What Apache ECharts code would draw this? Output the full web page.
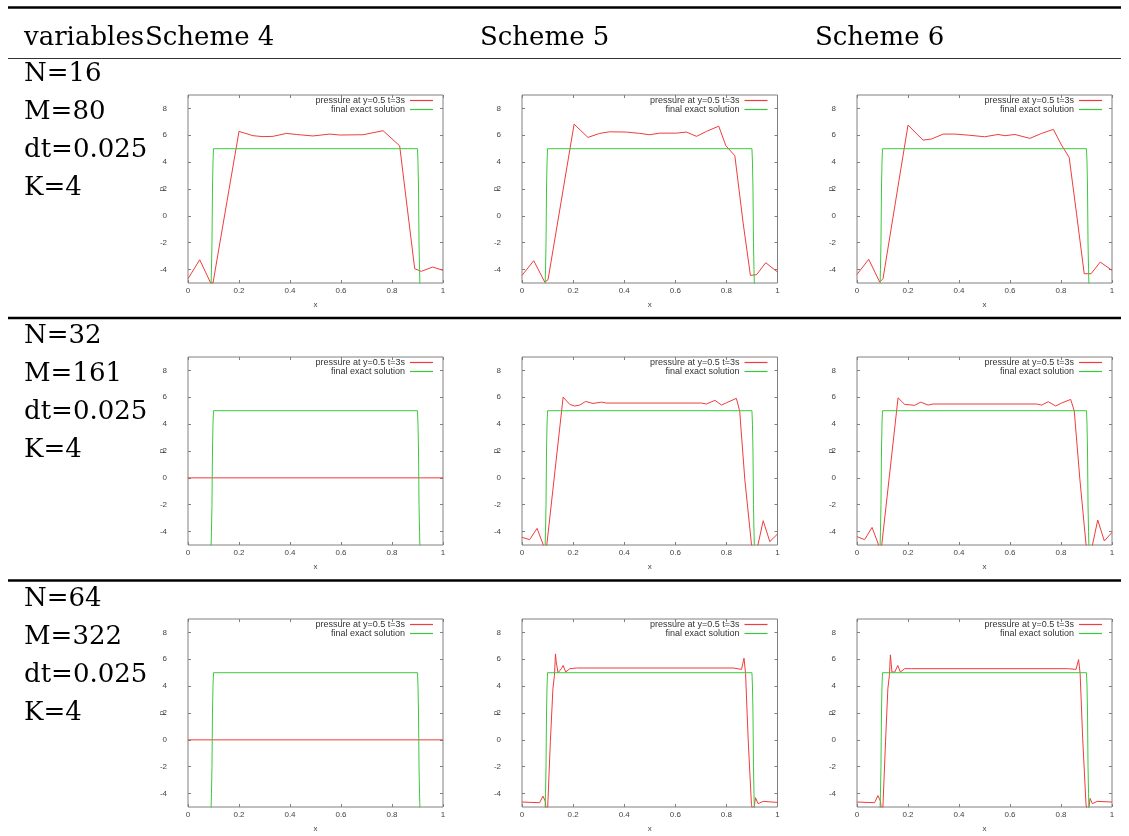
<!DOCTYPE html>
<html><head><meta charset="utf-8">
<script src="https://cdn.jsdelivr.net/npm/echarts@6/dist/echarts.min.js"></script>
<style>html,body{margin:0;padding:0;background:#fff}#c{width:1129px;height:836px}</style>
</head><body><div id="c"></div><script>
// ---------- data ----------
const xTicks = [0, 0.2, 0.4, 0.6, 0.8, 1];
const yTicks = [-4, -2, 0, 2, 4, 6, 8];
const headerFirst = 'variables';
const schemes = ['Scheme 4', 'Scheme 5', 'Scheme 6'];
const rowLabels = [
  ['N=16', 'M=80', 'dt=0.025', 'K=4'],
  ['N=32', 'M=161', 'dt=0.025', 'K=4'],
  ['N=64', 'M=322', 'dt=0.025', 'K=4']
];
const redName = 'pressure at y=0.5 t=3s';
const greenName = 'final exact solution';

const exactSol = [[0,-5.5],[0.09,-5.5],[0.092,-4],[0.094,-2],[0.096,2],[0.098,4],[0.1,5],[0.9,5],[0.902,4],[0.904,2],[0.906,-2],[0.908,-4],[0.91,-5.5],[1,-5.5]];

const s4n16 = [[0,-4.68],[0.046,-3.27],[0.089,-5.0],[0.098,-5.0],[0.2,6.29],[0.255,5.97],[0.294,5.9],[0.333,5.92],[0.386,6.14],[0.425,6.06],[0.49,5.95],[0.556,6.09],[0.595,6.02],[0.686,6.04],[0.765,6.34],[0.83,5.22],[0.889,-3.94],[0.915,-4.13],[0.96,-3.81],[1.0,-4.06]];
const s5n16 = [[0,-4.43],[0.046,-3.34],[0.089,-4.93],[0.102,-4.75],[0.204,6.83],[0.258,5.84],[0.304,6.14],[0.343,6.26],[0.409,6.24],[0.461,6.14],[0.5,6.04],[0.539,6.16],[0.604,6.16],[0.644,6.24],[0.683,5.92],[0.722,6.29],[0.77,6.68],[0.798,5.22],[0.833,4.48],[0.866,-0.6],[0.894,-4.43],[0.918,-4.38],[0.954,-3.49],[1.0,-4.18]];
const s6n16 = [[0,-4.36],[0.046,-3.24],[0.089,-4.93],[0.102,-4.68],[0.2,6.76],[0.259,5.64],[0.292,5.72],[0.338,6.09],[0.383,6.09],[0.436,6.01],[0.501,5.89],[0.553,6.06],[0.58,5.97],[0.619,6.06],[0.678,5.77],[0.724,6.14],[0.77,6.44],[0.802,5.27],[0.832,4.36],[0.861,0.15],[0.891,-4.31],[0.918,-4.31],[0.954,-3.44],[1.0,-4.06]];

const s4n32 = [[0,0],[1,0]];
const s5n32 = [[0,-4.43],[0.03,-4.6],[0.059,-3.76],[0.082,-4.93],[0.09,-5.6],[0.097,-5.0],[0.161,6.01],[0.187,5.47],[0.206,5.35],[0.226,5.42],[0.249,5.69],[0.278,5.54],[0.311,5.64],[0.33,5.57],[0.702,5.57],[0.722,5.5],[0.755,5.77],[0.781,5.42],[0.8,5.59],[0.839,5.92],[0.852,4.98],[0.872,-0.1],[0.898,-4.93],[0.908,-5.6],[0.92,-5.3],[0.944,-3.19],[0.97,-4.75],[1.0,-4.18]];
const s6n32 = [[0,-4.38],[0.03,-4.6],[0.059,-3.69],[0.082,-4.85],[0.09,-5.6],[0.097,-5.0],[0.161,5.96],[0.187,5.47],[0.226,5.4],[0.25,5.64],[0.279,5.42],[0.298,5.5],[0.704,5.5],[0.724,5.42],[0.75,5.67],[0.779,5.35],[0.802,5.57],[0.838,5.84],[0.852,4.98],[0.874,-0.1],[0.898,-4.93],[0.908,-5.6],[0.92,-5.3],[0.944,-3.14],[0.97,-4.7],[1.0,-4.06]];

const s4n64 = [[0,0],[1,0]];
const s5n64 = [[0,-4.63],[0.069,-4.68],[0.082,-4.19],[0.091,-4.56],[0.096,-5.5],[0.1,-5.3],[0.111,-0.12],[0.121,3.8],[0.127,4.8],[0.131,6.4],[0.134,5.79],[0.141,5.0],[0.148,5.05],[0.154,5.3],[0.161,5.54],[0.171,5.05],[0.187,5.3],[0.213,5.35],[0.826,5.35],[0.859,5.25],[0.869,6.08],[0.875,4.93],[0.885,0.12],[0.898,-4.8],[0.905,-5.5],[0.914,-4.31],[0.924,-4.75],[0.944,-4.58],[1.0,-4.66]];
const s6n64 = [[0,-4.63],[0.069,-4.68],[0.082,-4.15],[0.092,-4.56],[0.097,-5.5],[0.101,-5.3],[0.112,-0.1],[0.121,3.8],[0.127,4.8],[0.131,6.33],[0.137,5.05],[0.148,5.05],[0.16,5.54],[0.17,5.05],[0.187,5.3],[0.213,5.3],[0.826,5.3],[0.859,5.25],[0.869,5.98],[0.875,4.93],[0.885,0.12],[0.898,-4.8],[0.906,-5.5],[0.914,-4.36],[0.923,-4.75],[0.942,-4.58],[1.0,-4.63]];

const panels = [[s4n16, s5n16, s6n16],[s4n32, s5n32, s6n32],[s4n64, s5n64, s6n64]];

// ---------- layout ----------
const W = 1129;
const colLeft = [188, 522, 857];
const colWidth = [255, 255.5, 255];
const rowTop = [95, 357, 619];
const plotH = 188;
const rowTextY = [74.5, 336.7, 599];
const tickColor = '#808080';
const labelStyle = {fontSize: 8, color: '#444', fontFamily: 'Liberation Sans'};

const grid = [], xAxis = [], yAxis = [], series = [], legend = [];
for (let r = 0; r < 3; r++) {
  for (let c = 0; c < 3; c++) {
    const i = r * 3 + c;
    grid.push({left: colLeft[c], top: rowTop[r], width: colWidth[c], height: plotH,
      show: true, borderColor: '#808080', borderWidth: 1, backgroundColor: 'transparent', outerBoundsMode: 'none'});
    xAxis.push({type: 'value', gridIndex: i, min: 0, max: 1, interval: 0.2, position: 'bottom',
      name: 'x', nameLocation: 'middle', nameGap: 18, nameTextStyle: labelStyle, nameMoveOverlap: false,
      axisLine: {show: false, onZero: false},
      axisTick: {inside: true, length: 3, lineStyle: {color: tickColor}, customValues: xTicks},
      axisLabel: Object.assign({customValues: xTicks, margin: 4}, labelStyle),
      splitLine: {show: false}});
    xAxis.push({type: 'value', gridIndex: i, min: 0, max: 1, interval: 0.2, position: 'top',
      axisLine: {show: false, onZero: false},
      axisTick: {inside: true, length: 3, lineStyle: {color: tickColor}, customValues: xTicks},
      axisLabel: {show: false}, splitLine: {show: false}});
    yAxis.push({type: 'value', gridIndex: i, min: -5, max: 9, interval: 1, position: 'left',
      name: 'p', nameLocation: 'middle', nameGap: 22, nameTextStyle: labelStyle, nameMoveOverlap: false,
      axisLine: {show: false, onZero: false},
      axisTick: {inside: true, length: 3, lineStyle: {color: tickColor}, customValues: yTicks},
      axisLabel: Object.assign({customValues: yTicks, margin: 21, align: 'right'}, labelStyle),
      splitLine: {show: false}});
    yAxis.push({type: 'value', gridIndex: i, min: -5, max: 9, interval: 1, position: 'right',
      axisLine: {show: false, onZero: false},
      axisTick: {inside: true, length: 3, lineStyle: {color: tickColor}, customValues: yTicks},
      axisLabel: {show: false}, splitLine: {show: false}});
    series.push({type: 'line', name: redName, xAxisIndex: 2 * i, yAxisIndex: 2 * i, data: panels[r][c],
      showSymbol: false, symbol: 'none', clip: true, lineStyle: {width: 1, color: '#f03c3c'}, itemStyle: {color: '#f03c3c'}});
    series.push({type: 'line', name: greenName, xAxisIndex: 2 * i, yAxisIndex: 2 * i, data: exactSol,
      showSymbol: false, symbol: 'none', clip: true, lineStyle: {width: 1, color: '#3cc83c'}, itemStyle: {color: '#3cc83c'}});
    legend.push({orient: 'vertical', align: 'right', right: W - (colLeft[c] + colWidth[c]) + 10, top: rowTop[r] + 1,
      itemWidth: 23, itemHeight: 1.2, itemGap: 0, padding: 0, icon: 'rect', selectedMode: false,
      data: [redName, greenName],
      textStyle: {fontSize: 9, color: '#333', fontFamily: 'Liberation Sans', lineHeight: 9}});
  }
}

const serif = 'DejaVu Serif';
const tFont = 26;
const graphic = [
  {type: 'line', shape: {x1: 8, y1: 7.5, x2: 1121, y2: 7.5}, style: {stroke: '#000', lineWidth: 2.5}},
  {type: 'line', shape: {x1: 8, y1: 58.5, x2: 1121, y2: 58.5}, style: {stroke: '#333', lineWidth: 1.2}},
  {type: 'line', shape: {x1: 8, y1: 318, x2: 1121, y2: 318}, style: {stroke: '#000', lineWidth: 2.5}},
  {type: 'line', shape: {x1: 8, y1: 580.5, x2: 1121, y2: 580.5}, style: {stroke: '#000', lineWidth: 2.5}},
  {type: 'text', x: 24, y: 38, style: {text: headerFirst, fontSize: tFont, fontFamily: serif, fill: '#000', verticalAlign: 'middle'}}
];
const schemeX = [145, 480, 815];
schemes.forEach((s, k) => graphic.push({type: 'text', x: schemeX[k], y: 38,
  style: {text: s, fontSize: tFont, fontFamily: serif, fill: '#000', verticalAlign: 'middle'}}));
rowLabels.forEach((labels, r) => labels.forEach((t, k) => graphic.push({type: 'text', x: 24, y: rowTextY[r] + k * 38,
  style: {text: t, fontSize: tFont, fontFamily: serif, fill: '#000', verticalAlign: 'middle'}})));

const chart = echarts.init(document.getElementById('c'), null, {renderer: 'canvas'});
chart.setOption({animation: false, backgroundColor: '#fff', grid, xAxis, yAxis, series, legend, graphic});
</script></body></html>
